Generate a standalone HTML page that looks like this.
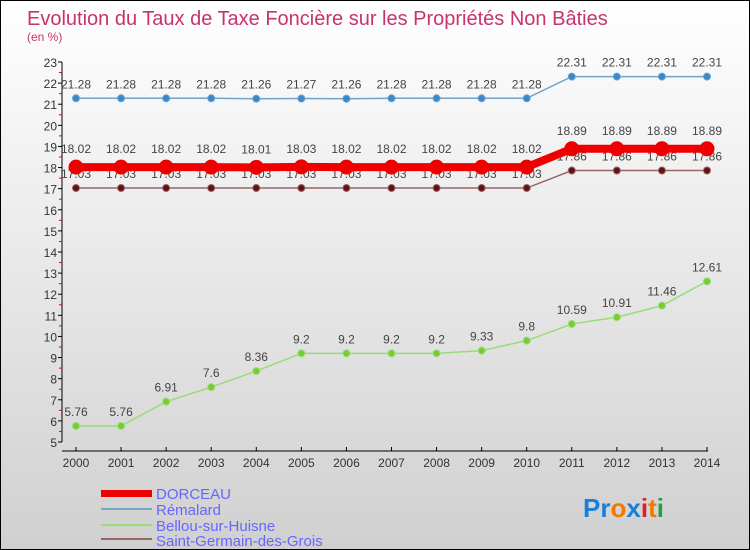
<!DOCTYPE html>
<html><head><meta charset="utf-8"><style>
body{margin:0}
#c{width:748px;height:548px;border:1px solid #000;background:linear-gradient(#ffffff,#d0d0d0);position:relative;font-family:"Liberation Sans",sans-serif;overflow:hidden}
</style></head><body>
<div id="c">
<svg id="s" width="748" height="548" xmlns="http://www.w3.org/2000/svg">
<text x="26" y="24" font-size="20" fill="#c8336e">Evolution du Taux de Taxe Foncière sur les Propriétés Non Bâties</text>
<text x="26" y="40" font-size="12" fill="#c8336e">(en %)</text>
<g id="axes"></g><g id="series"></g>
<g>
<rect x="100" y="489" width="51" height="7" fill="#ee0000"/>
<text x="155" y="498" font-size="15" fill="#6666ff">DORCEAU</text>
<rect x="100" y="507" width="51" height="2" fill="#7aa6c8"/>
<text x="155" y="514" font-size="15" fill="#6666ff">Rémalard</text>
<rect x="100" y="523" width="51" height="2" fill="#99dd77"/>
<text x="155" y="530" font-size="15" fill="#6666ff">Bellou-sur-Huisne</text>
<rect x="100" y="537" width="51" height="2" fill="#996666"/>
<text x="155" y="545" font-size="15" fill="#6666ff">Saint-Germain-des-Grois</text>
</g>
<g font-size="26" font-weight="bold">
<text x="582" y="516"><tspan fill="#1a7fd8">Pr</tspan><tspan fill="#f07a00">o</tspan><tspan fill="#1a7fd8">x</tspan><tspan fill="#e02020">i</tspan><tspan fill="#f07a00">t</tspan><tspan fill="#20a040">i</tspan></text>
</g>
</svg>
</div>
<script>
const years=[2000,2001,2002,2003,2004,2005,2006,2007,2008,2009,2010,2011,2012,2013,2014];
const dorceau=[18.02,18.02,18.02,18.02,18.01,18.03,18.02,18.02,18.02,18.02,18.02,18.89,18.89,18.89,18.89];
const remalard=[21.28,21.28,21.28,21.28,21.26,21.27,21.26,21.28,21.28,21.28,21.28,22.31,22.31,22.31,22.31];
const bellou=[5.76,5.76,6.91,7.6,8.36,9.2,9.2,9.2,9.2,9.33,9.8,10.59,10.91,11.46,12.61];
const stgermain=[17.03,17.03,17.03,17.03,17.03,17.03,17.03,17.03,17.03,17.03,17.03,17.86,17.86,17.86,17.86];
const yTicks=[5,6,7,8,9,10,11,12,13,14,15,16,17,18,19,20,21,22,23];
const NS="http://www.w3.org/2000/svg";
const X=y=>75+(y-years[0])*(706-75)/(years[years.length-1]-years[0]);
const Y=v=>441-(v-5)*(380/18);
function mk(t,a,p){const e=document.createElementNS(NS,t);for(const k in a)e.setAttribute(k,a[k]);p.appendChild(e);return e;}
const ax=document.getElementById('axes');
let e=mk('line',{x1:61,y1:Y(23),x2:61,y2:Y(5),stroke:'#000'},ax);


e=mk('line',{x1:61,y1:450,x2:707,y2:450,stroke:'#000'},ax);


yTicks.forEach(v=>{
 mk('line',{x1:57,x2:61,y1:Y(v),y2:Y(v),stroke:'#000'},ax);
 if(v<23)mk('line',{x1:58,x2:61,y1:Y(v+0.5),y2:Y(v+0.5),stroke:'#e00'},ax);
 const t=mk('text',{x:56,y:Y(v)+5,'font-size':12,'text-anchor':'end',fill:'#333'},ax);t.textContent=v;
 
 
});
years.forEach(y=>{
 mk('line',{x1:X(y),x2:X(y),y1:446,y2:450,stroke:'#000'},ax);
 const t=mk('text',{x:X(y),y:466,'font-size':12,'text-anchor':'middle',fill:'#333'},ax);t.textContent=y;
 
 
});
const sg=document.getElementById('series');
function series(d,name,color,w,r,pc,labDy){
 const g=mk('g',{},sg);
 
 
 const l=mk('polyline',{points:d.map((v,i)=>X(years[i])+','+Y(v)).join(' '),fill:'none',stroke:color,'stroke-width':w},g);
 
 
 d.forEach((v,i)=>{
  const c=mk('circle',{cx:X(years[i]),cy:Y(v),r:r,fill:pc,stroke:color,'stroke-width':1},g);
  
  
  const t=mk('text',{x:X(years[i]),y:Y(v)+labDy,'font-size':12,'text-anchor':'middle',fill:'#444'},g);
  t.textContent=v;
  
  
 });
}
series(remalard,'remalard','#6fa3cc',1.5,3.5,'#3b88c8',-10);
series(bellou,'bellou','#99dd77',1.5,3.5,'#77cc33',-10);
series(stgermain,'saint-germain','#996666',1.5,3.5,'#661111',-10);
series(dorceau,'dorceau','#ee0000',8,7,'#ee0000',-14);
</script>
</body></html>
